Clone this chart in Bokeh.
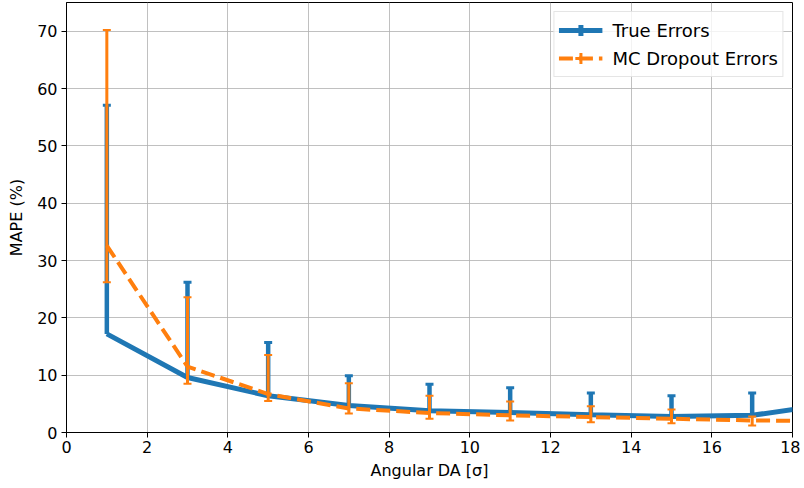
from bokeh.plotting import figure
from bokeh.models import Range1d, Legend, LegendItem, ColumnDataSource, FixedTicker
from bokeh.embed import file_html
from bokeh.resources import INLINE

# ---- data ----
x_vals = [1, 3, 5, 7, 9, 11, 13, 15, 17, 19]
true_err = [17.2, 9.6, 6.4, 4.7, 3.8, 3.5, 3.1, 2.8, 3.0, 5.0]
true_lower = [17.2, 9.6, 6.4, 4.7, 3.8, 3.5, 3.1, 2.8, 3.0, 5.0]
true_upper = [57.1, 26.2, 15.7, 9.9, 8.4, 7.8, 6.9, 6.4, 6.9, 9.0]
mc_err = [32.6, 11.5, 6.7, 4.2, 3.4, 3.0, 2.7, 2.4, 2.1, 2.0]
mc_lower = [26.2, 8.5, 5.5, 3.3, 2.4, 2.1, 1.8, 1.6, 1.2, 1.2]
mc_upper = [70.2, 23.6, 13.5, 8.6, 6.4, 5.4, 4.6, 4.0, 2.8, 2.8]
x_ticks = [0, 2, 4, 6, 8, 10, 12, 14, 16, 18]
y_ticks = [0, 10, 20, 30, 40, 50, 60, 70]

BLUE = "#1f77b4"
ORANGE = "#ff7f0e"
FONT = "DejaVu Sans"

p = figure(width=800, height=484, output_backend="svg", toolbar_location=None,
           x_range=Range1d(0, 18), y_range=Range1d(0, 75),
           min_border_left=66, min_border_right=8, min_border_top=2, min_border_bottom=52)

p.outline_line_color = "black"
p.outline_line_width = 1
p.outline_line_alpha = 1
p.background_fill_color = "white"
p.border_fill_color = "white"

for ax in (p.xaxis, p.yaxis):
    ax.axis_line_color = "black"
    ax.major_tick_line_color = "black"
    ax.major_tick_out = 5
    ax.major_tick_in = 0
    ax.minor_tick_line_color = None
    ax.major_label_text_font = FONT
    ax.major_label_text_font_size = "16px"
    ax.major_label_text_color = "black"
    ax.axis_label_text_font = FONT
    ax.axis_label_text_font_size = "16px"
    ax.axis_label_text_font_style = "normal"
    ax.axis_label_text_color = "black"

p.xaxis.ticker = FixedTicker(ticks=x_ticks)
p.yaxis.ticker = FixedTicker(ticks=y_ticks)
p.xaxis.axis_label = "Angular DA [σ]"
p.yaxis.axis_label = "MAPE (%)"
p.xaxis.axis_label_standoff = 5
p.xaxis.major_label_standoff = 3
p.yaxis.axis_label_standoff = 8
p.yaxis.major_label_standoff = 4

p.grid.grid_line_color = "#b0b0b0"
p.grid.grid_line_width = 1
p.grid.grid_line_alpha = 0.8

src_t = ColumnDataSource(dict(x=x_vals, y=true_err, lo=true_lower, hi=true_upper))
src_m = ColumnDataSource(dict(x=x_vals, y=mc_err, lo=mc_lower, hi=mc_upper))

# True errors
t_line = p.line("x", "y", source=src_t, line_color=BLUE, line_width=5)
p.segment(x0="x", y0="lo", x1="x", y1="hi", source=src_t, line_color=BLUE, line_width=4.5)
p.scatter("x", "hi", source=src_t, marker="dash", size=8, line_color=BLUE, line_width=3)

# MC dropout errors
m_line = p.line("x", "y", source=src_m, line_color=ORANGE, line_width=4, line_dash="14 6")
p.segment(x0="x", y0="lo", x1="x", y1="hi", source=src_m, line_color=ORANGE, line_width=3)
p.scatter("x", "hi", source=src_m, marker="dash", size=8, line_color=ORANGE, line_width=2)
p.scatter("x", "lo", source=src_m, marker="dash", size=8, line_color=ORANGE, line_width=2)

# legend marker dummies (cross -> vertical error bar look), outside the visible range
t_leg = p.scatter(x=[-100], y=[-100], marker="cross", size=16,
                  line_color=BLUE, line_width=5)
m_leg = p.scatter(x=[-100], y=[-100], marker="cross", size=14,
                  line_color=ORANGE, line_width=3)

legend = Legend(items=[LegendItem(label="True Errors", renderers=[t_line, t_leg]),
                       LegendItem(label="MC Dropout Errors", renderers=[m_line, m_leg])],
                location="top_right")
legend.label_text_font = FONT
legend.label_text_font_size = "18px"
legend.label_text_color = "black"
legend.glyph_width = 44
legend.glyph_height = 28
legend.label_height = 28
legend.spacing = 0
legend.padding = 4
legend.margin = 9
legend.label_standoff = 10
legend.border_line_color = "#cccccc"
legend.border_line_width = 1
legend.background_fill_alpha = 0.8
p.add_layout(legend)

open("out.html", "w").write(file_html(p, INLINE))
